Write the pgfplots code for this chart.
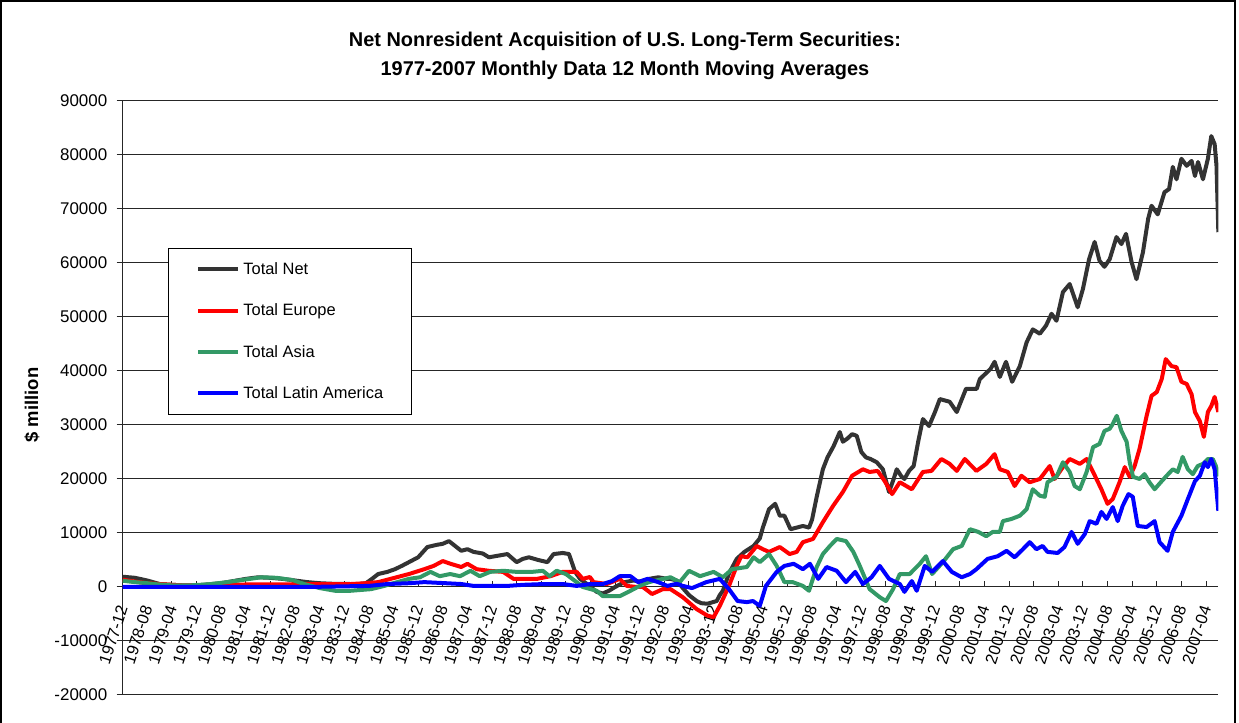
\documentclass[border=0pt]{standalone}
\usepackage{fontspec}
\setmainfont{Liberation Sans}
\usepackage{pgfplots}
\pgfplotsset{compat=1.18}
\definecolor{netgray}{RGB}{51,51,51}
\definecolor{eured}{RGB}{255,0,0}
\definecolor{asgreen}{RGB}{51,153,102}
\definecolor{lablue}{RGB}{0,0,255}
\begin{document}
\begin{tikzpicture}[x=1bp,y=1bp]
\useasboundingbox (0,0) rectangle (1239,723);
\draw[line width=1.2bp, black] (1,0) -- (1,722) -- (1235,722) -- (1235,0);
\node[font=\fontsize{20}{29}\selectfont\bfseries, align=center] at (625,667.5) {Net Nonresident Acquisition of U.S. Long-Term Securities:\\1977-2007 Monthly Data 12 Month Moving Averages};
\begin{axis}[
  at={(122.7bp,28bp)}, anchor=south west,
  scale only axis, width=1095.6bp, height=594bp,
  xmin=0, xmax=356, ymin=-20000, ymax=90000,
  axis x line*=middle, axis y line*=left,
  hide obscured x ticks=false,
  scaled y ticks=false, scaled x ticks=false,
  axis line style={black!85, line width=1bp},
  xtick={0,8,...,352},
  xticklabels={1977-12,1978-08,1979-04,1979-12,1980-08,1981-04,1981-12,1982-08,1983-04,1983-12,1984-08,1985-04,1985-12,1986-08,1987-04,1987-12,1988-08,1989-04,1989-12,1990-08,1991-04,1991-12,1992-08,1993-04,1993-12,1994-08,1995-04,1995-12,1996-08,1997-04,1997-12,1998-08,1999-04,1999-12,2000-08,2001-04,2001-12,2002-08,2003-04,2003-12,2004-08,2005-04,2005-12,2006-08,2007-04},
  ytick={-20000,-10000,0,10000,20000,30000,40000,50000,60000,70000,80000,90000},
  yticklabels={-20000,-10000,0,10000,20000,30000,40000,50000,60000,70000,80000,90000},
  xtick align=inside, ytick align=outside,
  major tick length=6bp,
  tick style={black!85, line width=1bp},
  tick label style={font=\fontsize{17}{20}\selectfont},
  yticklabel style={xshift=-6bp},
  xticklabel style={font=\fontsize{16.5}{20}\selectfont, yshift=-19bp, rotate=72, anchor=east, inner sep=0pt},
  ymajorgrids, major grid style={black!85, line width=1bp},
  ylabel={\$ million},
  ylabel style={font=\fontsize{18.5}{20}\selectfont\bfseries, at={(axis description cs:-0.0828,0.488)}, anchor=center, rotate=0},
  legend cell align=left,
  legend image code/.code={\draw[#1] (0bp,0bp) -- (40bp,0bp);},
  legend style={at={(axis description cs:0.04135,0.7525)}, anchor=north west, draw=black, line width=0.8bp, fill=white, font=\fontsize{16.5}{19}\selectfont, inner xsep=28bp, inner ysep=14bp, row sep=28bp, nodes={inner sep=0pt}, /tikz/every odd column/.append style={column sep=3bp}},
  every axis plot/.append style={line width=4bp, line join=round, no markers},
]
\addplot[color=netgray] coordinates {
(0,1900) (4,1700) (8,1200) (12,550) (16,400) (20,300) (24,300) (28,500) (32,700) (36,1100) (40,1500) (44,1800) (48,1700) (52,1500) (56,1200) (60,900) (64,700) (68,600) (72,600) (76,500) (79,700) (81,1500) (83,2400) (86,2800) (88.5,3300) (91,4000) (93,4600) (96,5500) (99,7400) (102,7800) (104,8000) (106,8500) (108,7600) (110,6700) (112,7000) (114,6500) (117,6200) (119,5500) (122,5800) (125,6100) (128,4600) (130,5200) (132,5500) (135,5000) (138,4600) (140,6100) (143,6300) (145,6100) (147,2800) (148.6,1500) (151,500) (154,-900) (156,-1200) (158,-700) (160,0) (163,900) (166,1200) (168,1000) (171,1500) (174,1800) (177,1500) (178,1500) (180,1200) (182,-200) (184,-1500) (186.5,-2600) (188,-3000) (190,-3100) (193,-2600) (194,-1500) (195,-700) (197,2500) (199.5,5200) (202,6500) (205,7600) (207,9000) (208,11000) (210,14400) (212,15400) (213.5,13200) (215,13200) (217,10700) (219,11000) (221,11300) (223,11000) (224,12500) (225.5,16700) (227.5,21800) (229,24000) (231,26100) (233,28700) (234,26900) (235.5,27500) (237,28300) (238.5,28000) (240,25000) (241.5,24000) (243,23700) (245,23100) (247,21800) (249,17600) (250.5,20000) (251.5,21800) (253,20500) (254,20000) (255.5,21500) (257,22400) (258.5,27000) (260,31100) (262,29800) (264,32500) (265.5,34800) (268.7,34300) (271,32400) (274,36700) (277.5,36700) (278.5,38500) (282,40400) (283.3,41700) (285,38900) (287,41700) (289,38000) (291.5,40900) (293.7,45300) (295.7,47700) (298,46900) (300,48400) (301.8,50600) (303.4,49300) (305.5,54600) (307.7,56100) (310.3,51800) (312,55200) (314,60700) (315.8,63900) (317.4,60400) (319,59300) (320.7,60700) (322.9,64800) (324.5,63500) (326,65400) (327.8,60200) (329.4,57000) (331.5,62000) (333.2,68200) (334.3,70600) (336.3,69000) (338.5,73100) (340,73700) (341.2,77800) (342.4,75500) (344,79300) (345.7,78000) (347.3,78900) (348.4,76100) (349.4,78700) (351,75500) (352.6,79300) (353.7,83500) (354.8,82000) (355.4,78000) (356,65700)
};
\addlegendentry{Total Net}
\addplot[color=eured] coordinates {
(0,1350) (4,1000) (8,700) (12,550) (16,400) (20,300) (24,300) (30,300) (36,400) (42,500) (48,500) (54,500) (60,550) (66,550) (74,550) (79,700) (83,900) (87,1500) (93,2400) (98,3300) (101,3900) (104,4800) (106.5,4300) (110,3700) (112,4300) (115,3300) (119,3000) (123.6,2800) (127,1500) (130,1500) (134.6,1500) (139,2000) (143,2800) (147.5,2800) (149.5,1500) (151.8,1850) (153,900) (157.3,550) (161.5,1500) (163.8,200) (167,0) (169,0) (172,-1300) (175.5,-400) (178,-400) (182,-1900) (186.5,-4100) (190,-5300) (192,-5600) (194,-3500) (197,200) (199.5,3900) (201,5700) (203,5500) (206,7600) (208,7000) (210,6500) (213.5,7400) (216.7,6100) (219,6500) (221,8300) (224.3,8900) (227.5,12000) (230.8,15000) (234,17600) (237,20600) (240.5,21800) (242.7,21300) (245.3,21500) (247.6,19600) (250,17200) (252.5,19400) (256.4,18100) (260,21300) (262.8,21500) (266,23700) (268.7,22800) (271,21500) (273.6,23700) (277.4,21500) (280.6,22800) (283.3,24600) (285,21800) (287.6,21300) (289.8,18700) (292,20600) (294.7,19400) (298,20000) (301.2,22400) (302.8,20000) (305.5,22200) (307.7,23700) (311,22800) (313.2,23700) (315.3,21300) (318,18100) (320,15400) (321.7,16300) (323.9,19400) (325.6,22200) (327.2,20400) (328.8,22400) (330.4,25600) (332.7,31700) (334.3,35400) (336,36100) (337.6,38500) (338.9,42200) (340.8,40900) (342.4,40700) (344,38000) (345.7,37600) (347.3,35700) (348.4,32400) (350,30700) (351.3,27800) (352.6,32400) (353.7,33500) (354.8,35200) (356,32400)
};
\addlegendentry{Total Europe}
\addplot[color=asgreen] coordinates {
(0,1150) (4,900) (8,700) (10,550) (16,300) (22,300) (28,500) (34,900) (40,1400) (45,1800) (50,1700) (55,1300) (59,550) (64,-200) (69,-700) (74,-700) (80.7,-400) (85,200) (87,550) (93,1500) (96.6,1800) (100,2800) (103,2000) (106.4,2400) (109.6,2000) (113,3000) (116,2000) (119.4,2800) (123.6,3000) (128,2800) (133,2800) (136.5,3000) (138.7,2000) (141,3000) (144,2400) (147.5,900) (149.5,0) (154,-700) (156,-1700) (161.5,-1700) (165,-700) (168,200) (171,900) (175.5,1500) (178,1800) (181,900) (184,3000) (187.6,2000) (192,2800) (195,1800) (198,3300) (202.8,3700) (205,5500) (207,4600) (210,6100) (212.5,3900) (215,900) (217.7,900) (221,200) (223,-700) (225.5,3700) (227.5,6100) (229.8,7600) (232,8900) (235,8500) (237.4,6500) (239.5,3900) (242.7,-400) (246,-1900) (248,-2600) (250.3,-400) (252.5,2400) (255.7,2400) (259,4300) (261,5700) (263,2400) (266.5,4600) (269.8,7000) (272.6,7600) (275.3,10700) (278,10200) (280.6,9400) (282.7,10200) (285,10200) (286,12200) (288.8,12600) (291.5,13200) (293.7,14400) (295.7,18100) (298,16900) (299.6,16700) (300.5,19400) (303.4,20400) (305.5,23100) (307.7,21300) (309.3,18700) (311,18100) (313.2,21300) (315.3,25900) (317.4,26500) (319,28900) (320.7,29300) (321.7,30200) (323,31700) (324.5,28900) (326.2,26900) (327.2,23100) (328.3,20400) (330.4,20000) (332,20900) (333.6,19400) (335.3,18100) (337.6,19600) (339.2,20600) (341.2,21800) (342.8,21300) (344.4,24100) (346.1,21800) (347.7,20900) (349.3,22400) (351,22800) (352.6,23700) (354.2,23700) (355.2,22400) (356,20500)
};
\addlegendentry{Total Asia}
\addplot[color=lablue] coordinates {
(0,0) (20,0) (40,0) (60,0) (70,100) (80,200) (86,550) (93,700) (98,900) (105,700) (110,550) (114,200) (125,200) (130,400) (137,550) (143,550) (147.5,200) (152,550) (156,550) (159,1100) (161.5,2000) (165,2000) (167.5,900) (170.5,1500) (174,900) (177,200) (180,600) (182,200) (185,-200) (189.6,900) (194,1500) (197,-400) (199.8,-2600) (202.8,-2800) (204.8,-2600) (207,-3500) (209,200) (212.5,2800) (215,3900) (218,4300) (221,3300) (223.3,4300) (226,1500) (228.7,3700) (232,3000) (235,900) (238,2800) (240.5,550) (243.3,1800) (246,3900) (249,1500) (252.5,550) (254,-900) (256.4,1100) (258,-700) (260.6,3900) (263,2800) (266.5,4800) (269.4,2800) (272.6,1800) (275.3,2400) (277.4,3300) (281,5200) (284.3,5700) (287.2,6700) (289.8,5500) (292.5,7000) (294.7,8300) (296.9,7000) (298.9,7600) (300.5,6500) (303.8,6300) (306,7400) (308.3,10200) (310.3,8000) (312.6,9800) (314.2,12200) (316.4,11700) (318,13900) (319.7,12600) (321.7,14800) (323.3,12200) (324.9,15000) (326.8,17200) (328.2,16700) (329.8,11300) (332.7,11100) (335.3,12200) (336.9,8300) (339.5,6700) (341.2,10200) (344,13200) (346.1,16300) (348.4,19600) (350,20600) (351.6,23100) (352.6,22200) (353.7,23700) (354.8,21800) (356,14100)
};
\addlegendentry{Total Latin America}
\end{axis}
\end{tikzpicture}
\end{document}
